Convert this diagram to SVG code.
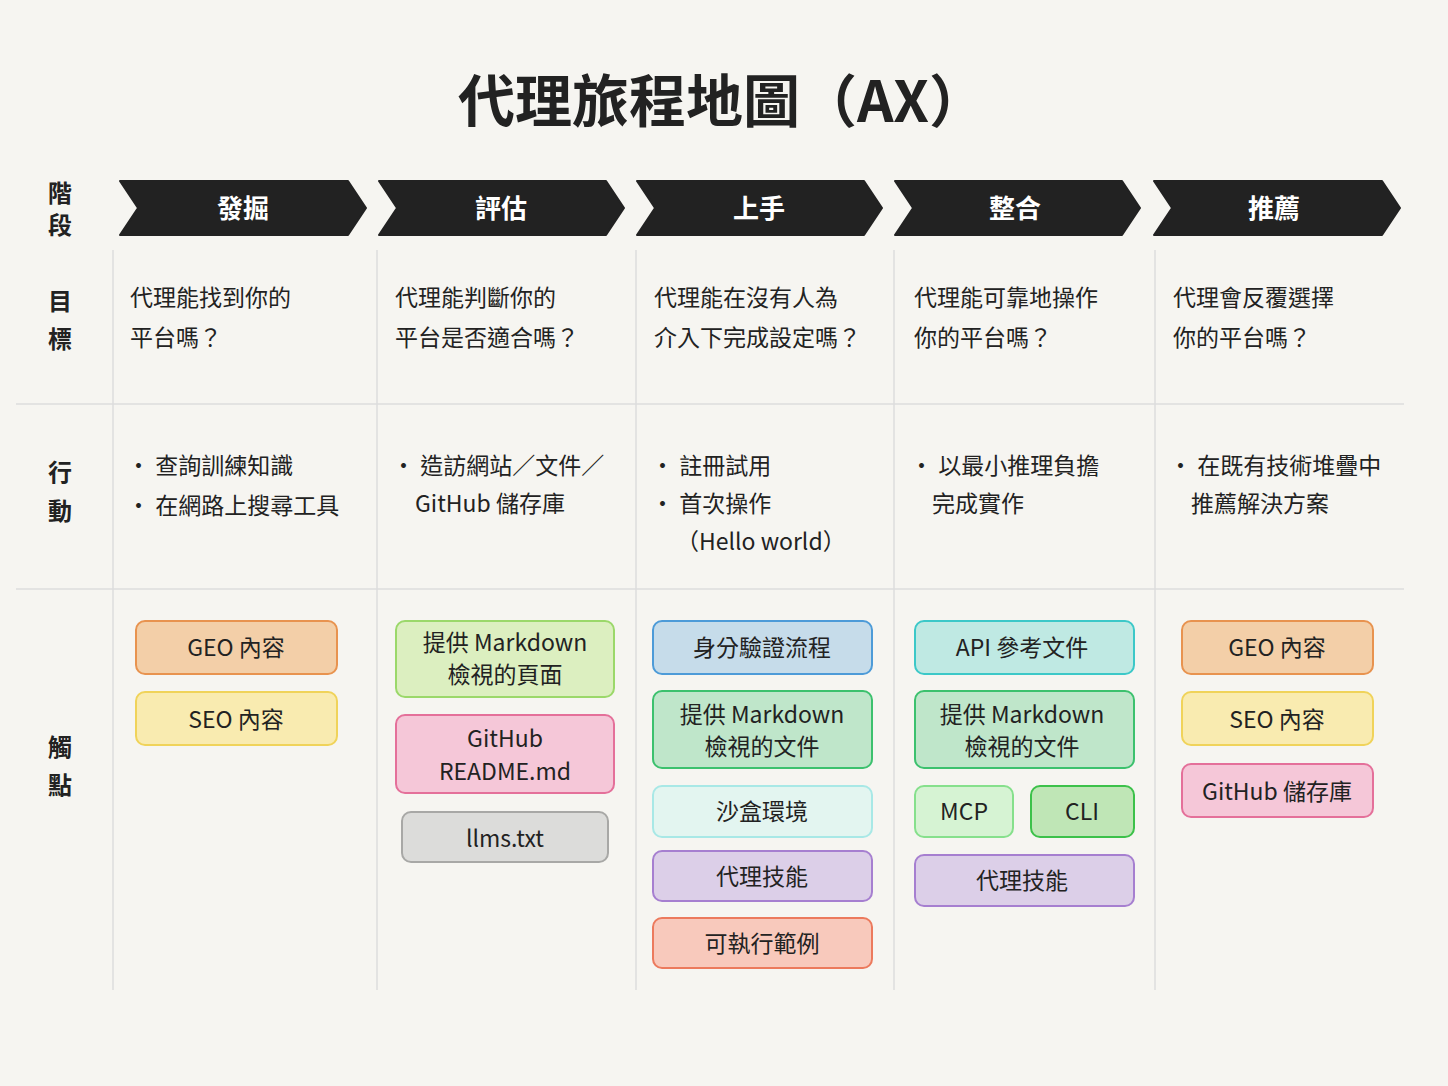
<svg xmlns="http://www.w3.org/2000/svg" width="1448" height="1086" viewBox="0 0 1448 1086">
<style>
text{font-family:"Noto Sans CJK TC","Noto Sans",sans-serif;fill:#222}
.t{font-size:57px;font-weight:700;text-anchor:middle}
.st{font-size:26px;font-weight:700;fill:#fff;text-anchor:middle}
.lb{font-size:24px;font-weight:700;text-anchor:middle}
.b{font-size:23px}
.c{font-size:23px;text-anchor:middle}
.ch{fill:#222;stroke:#222;stroke-width:2;stroke-linejoin:round}
.ln{stroke:#ddd;stroke-width:1.5}
.n{stroke-width:2;rx:9}
</style>
<rect width="1448" height="1086" fill="#f6f5f1"/>
<text class="t" x="722" y="122">代理旅程地圖（AX）</text>
<g id="labels">
<text class="lb" x="60" y="202">階</text><text class="lb" x="60" y="234">段</text>
<text class="lb" x="60" y="310">目</text><text class="lb" x="60" y="348">標</text>
<text class="lb" x="60" y="481">行</text><text class="lb" x="60" y="520">動</text>
<text class="lb" x="60" y="756">觸</text><text class="lb" x="60" y="794">點</text>
</g>
<g id="grid">
<line class="ln" x1="16" y1="404" x2="1404" y2="404"/><line class="ln" x1="16" y1="589" x2="1404" y2="589"/>
<line class="ln" x1="113" y1="250" x2="113" y2="990"/><line class="ln" x1="377" y1="250" x2="377" y2="990"/>
<line class="ln" x1="636" y1="250" x2="636" y2="990"/><line class="ln" x1="894" y1="250" x2="894" y2="990"/>
<line class="ln" x1="1155" y1="250" x2="1155" y2="990"/>
</g>
<g id="stages">
<path class="ch" d="M120,181 H348 L366,208 L348,235 H120 L138,208 Z"/><text class="st" x="243" y="218">發掘</text>
<path class="ch" d="M379,181 H606 L624,208 L606,235 H379 L397,208 Z"/><text class="st" x="501" y="218">評估</text>
<path class="ch" d="M637,181 H864 L882,208 L864,235 H637 L655,208 Z"/><text class="st" x="759" y="218">上手</text>
<path class="ch" d="M895,181 H1122 L1140,208 L1122,235 H895 L913,208 Z"/><text class="st" x="1015" y="218">整合</text>
<path class="ch" d="M1154,181 H1382 L1400,208 L1382,235 H1154 L1172,208 Z"/><text class="st" x="1274" y="218">推薦</text>
</g>
<g id="goals">
<text class="b" x="130" y="306">代理能找到你的</text><text class="b" x="130" y="346">平台嗎？</text>
<text class="b" x="395" y="306">代理能判斷你的</text><text class="b" x="395" y="346">平台是否適合嗎？</text>
<text class="b" x="654" y="306">代理能在沒有人為</text><text class="b" x="654" y="346">介入下完成設定嗎？</text>
<text class="b" x="914" y="306">代理能可靠地操作</text><text class="b" x="914" y="346">你的平台嗎？</text>
<text class="b" x="1173" y="306">代理會反覆選擇</text><text class="b" x="1173" y="346">你的平台嗎？</text>
</g>
<g id="actions">
<text class="b" x="127" y="474">• 查詢訓練知識</text><text class="b" x="127" y="514">• 在網路上搜尋工具</text>
<text class="b" x="392" y="474">• 造訪網站／文件／</text><text class="b" x="415" y="512">GitHub 儲存庫</text>
<text class="b" x="651" y="474">• 註冊試用</text><text class="b" x="651" y="512">• 首次操作</text><text class="b" x="676" y="550">（Hello world）</text>
<text class="b" x="910" y="474">• 以最小推理負擔</text><text class="b" x="932" y="512">完成實作</text>
<text class="b" x="1169" y="474">• 在既有技術堆疊中</text><text class="b" x="1191" y="512">推薦解決方案</text>
</g>
<g id="touch1">
<rect class="n" x="136" y="621" width="201" height="53" fill="#f3cfa8" stroke="#e8934f"/><text class="c" x="236" y="656">GEO 內容</text>
<rect class="n" x="136" y="692" width="201" height="53" fill="#f9ebb0" stroke="#f0d35a"/><text class="c" x="236" y="728">SEO 內容</text>
</g>
<g id="touch2">
<rect class="n" x="396" y="621" width="218" height="76" fill="#dcefc0" stroke="#9bd86a"/><text class="c" x="505" y="651">提供 Markdown</text><text class="c" x="505" y="683">檢視的頁面</text>
<rect class="n" x="396" y="715" width="218" height="78" fill="#f5c7d8" stroke="#e4709a"/><text class="c" x="505" y="747">GitHub</text><text class="c" x="505" y="780">README.md</text>
<rect class="n" x="402" y="812" width="206" height="50" fill="#dcdcda" stroke="#a8a8a6"/><text class="c" x="505" y="847">llms.txt</text>
</g>
<g id="touch3">
<rect class="n" x="653" y="621" width="219" height="53" fill="#c6dcea" stroke="#4d9bd8"/><text class="c" x="762" y="656">身分驗證流程</text>
<rect class="n" x="653" y="691" width="219" height="77" fill="#bfe6ca" stroke="#3cc16e"/><text class="c" x="762" y="723">提供 Markdown</text><text class="c" x="762" y="755">檢視的文件</text>
<rect class="n" x="653" y="786" width="219" height="51" fill="#e3f5f0" stroke="#a8e8e6"/><text class="c" x="762" y="820">沙盒環境</text>
<rect class="n" x="653" y="851" width="219" height="50" fill="#dccfe8" stroke="#a67fd0"/><text class="c" x="762" y="885">代理技能</text>
<rect class="n" x="653" y="918" width="219" height="50" fill="#f8c9bc" stroke="#ec7a5d"/><text class="c" x="762" y="952">可執行範例</text>
</g>
<g id="touch4">
<rect class="n" x="915" y="621" width="219" height="53" fill="#bfe9e3" stroke="#3cc8c8"/><text class="c" x="1022" y="656">API 參考文件</text>
<rect class="n" x="915" y="691" width="219" height="77" fill="#bfe6ca" stroke="#3cc16e"/><text class="c" x="1022" y="723">提供 Markdown</text><text class="c" x="1022" y="755">檢視的文件</text>
<rect class="n" x="915" y="786" width="98" height="51" fill="#d6f3d3" stroke="#86e08c"/><text class="c" x="964" y="820">MCP</text>
<rect class="n" x="1031" y="786" width="103" height="51" fill="#bfe6b6" stroke="#3cc14a"/><text class="c" x="1082" y="820">CLI</text>
<rect class="n" x="915" y="855" width="219" height="51" fill="#dccfe8" stroke="#a67fd0"/><text class="c" x="1022" y="889">代理技能</text>
</g>
<g id="touch5">
<rect class="n" x="1182" y="621" width="191" height="53" fill="#f3cfa8" stroke="#e8934f"/><text class="c" x="1277" y="656">GEO 內容</text>
<rect class="n" x="1182" y="692" width="191" height="53" fill="#f9ebb0" stroke="#f0d35a"/><text class="c" x="1277" y="728">SEO 內容</text>
<rect class="n" x="1182" y="764" width="191" height="53" fill="#f5c7d8" stroke="#e4709a"/><text class="c" x="1277" y="800">GitHub 儲存庫</text>
</g>
<g id="connectors"></g>
</svg>
